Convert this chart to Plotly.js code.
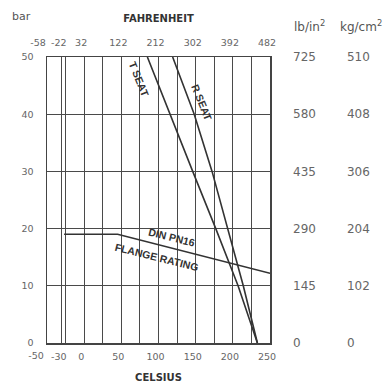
<!DOCTYPE html>
<html>
<head>
<meta charset="utf-8">
<script src="https://cdn.plot.ly/plotly-3.0.1.min.js"></script>
<style>html,body{margin:0;padding:0;background:#fff;}#chart{width:392px;height:385px;}</style>
</head>
<body>
<div id="chart"></div>
<script>
// ---- data ----
const pn16Celsius = [-27, 45, 250];
const pn16Bar = [19, 19, 12.2];
const tSeatCelsius = [85, 115, 146, 177, 207, 233];
const tSeatBar = [50, 40, 30, 20, 10, 0];
const rSeatCelsius = [119, 148, 172, 193, 214, 233];
const rSeatBar = [50, 40, 30, 20, 10, 0];

// grid positions (every 25 °C plus -30 °C)
const celsiusGridVals = [-50, -30, -25, 0, 25, 50, 75, 100, 125, 150, 175, 200, 225, 250];
// labelled Celsius ticks
const celsiusFirstVal = [-50];
const celsiusFirstText = ['-50'];
const celsiusVals = [-30, 0, 50, 100, 150, 200, 250];
const celsiusText = ['-30', '0', '50', '100', '150', '200', '250'];
// Fahrenheit ticks (placed at their Celsius equivalents)
const fahrenheitFirstVal = [-50];
const fahrenheitFirstText = ['-58'];
const fahrenheitVals = [-30, 0, 50, 100, 150, 200, 250];
const fahrenheitText = ['-22', '32', '122', '212', '302', '392', '482'];
const barTicks = [0, 10, 20, 30, 40, 50];
const lbText = ['0', '145', '290', '435', '580', '725'];
const kgText = ['0', '102', '204', '306', '408', '510'];

const lineLabels = [
  {text: 'T SEAT', x: 74, y: 46.2, angle: 68},
  {text: 'R SEAT', x: 158, y: 42.1, angle: 68},
  {text: 'DIN PN16', x: 117, y: 18.5, angle: 14},
  {text: 'FLANGE RATING', x: 98, y: 15.0, angle: 14}
];

const lineStyle = {color: '#333', width: 1.6};
const traces = [
  {x: pn16Celsius, y: pn16Bar, mode: 'lines', line: lineStyle, xaxis: 'x', yaxis: 'y', hoverinfo: 'skip'},
  {x: tSeatCelsius, y: tSeatBar, mode: 'lines', line: lineStyle, xaxis: 'x', yaxis: 'y', hoverinfo: 'skip'},
  {x: rSeatCelsius, y: rSeatBar, mode: 'lines', line: lineStyle, xaxis: 'x', yaxis: 'y', hoverinfo: 'skip'}
];

const dom = [0, 0.656];
const xr = [-50, 250];
const tickFont = {family: 'DejaVu Sans', size: 9.5, color: '#666'};
const titleFont = {family: 'DejaVu Sans', size: 10, color: '#333', weight: 'bold'};
const gridCol = '#4a4a4a';
const hidden = 'rgba(0,0,0,0)';

const annotations = lineLabels.map(l => ({
  text: l.text, x: l.x, y: l.y, xref: 'x', yref: 'y', showarrow: false,
  xanchor: 'center', yanchor: 'middle',
  textangle: l.angle, font: {family: 'Liberation Sans', size: 10.5, color: '#333', weight: 'bold'}
}));
annotations.push(
  {text: 'bar', xref: 'paper', yref: 'paper', x: -0.076, y: 1.143, xanchor: 'center', yanchor: 'middle', showarrow: false, font: {family: 'DejaVu Sans', size: 11, color: '#555'}},
  {text: 'lb/in<sup>2</sup>', xref: 'paper', yref: 'paper', x: 0.771, y: 1.108, xanchor: 'center', yanchor: 'middle', showarrow: false, font: {family: 'DejaVu Sans', size: 12, color: '#555'}},
  {text: 'kg/cm<sup>2</sup>', xref: 'paper', yref: 'paper', x: 0.9235, y: 1.108, xanchor: 'center', yanchor: 'middle', showarrow: false, font: {family: 'DejaVu Sans', size: 12, color: '#555'}}
);

const layout = {
  width: 392, height: 385,
  margin: {l: 47, r: 5, t: 57, b: 42},
  paper_bgcolor: '#fff', plot_bgcolor: '#fff',
  showlegend: false,
  // main bottom axis: grid + Celsius labels
  xaxis: {
    domain: dom, range: xr, tickvals: celsiusVals, ticktext: celsiusText, tickangle: 0,
    showgrid: false, zeroline: false,
    showline: true, mirror: true, linecolor: '#444', linewidth: 1.5,
    ticks: 'outside', ticklen: 4, tickcolor: hidden, tickfont: tickFont, ticklabelshift: -3,
    title: {text: 'CELSIUS', font: titleFont, standoff: 13}, automargin: false, fixedrange: true
  },
  // top axis: Fahrenheit labels
  xaxis2: {
    domain: dom, overlaying: 'x', side: 'top', anchor: 'y', range: xr, tickangle: 0,
    tickvals: fahrenheitVals, ticktext: fahrenheitText, showgrid: false, zeroline: false,
    ticks: 'outside', ticklen: 6, tickcolor: hidden, tickfont: tickFont, ticklabelshift: -3,
    title: {text: 'FAHRENHEIT', font: titleFont, standoff: 12}, automargin: false, fixedrange: true
  },
  // bottom: first Celsius label, shifted left as in the original
  xaxis3: {
    domain: dom, overlaying: 'x', side: 'bottom', anchor: 'y', range: xr, tickangle: 0,
    tickvals: celsiusFirstVal, ticktext: celsiusFirstText, showgrid: false, zeroline: false,
    ticks: 'outside', ticklen: 4, tickcolor: hidden, tickfont: tickFont, ticklabelshift: -11,
    automargin: false, fixedrange: true
  },
  // top: first Fahrenheit label, shifted left
  xaxis4: {
    domain: dom, overlaying: 'x', side: 'top', anchor: 'y', range: xr, tickangle: 0,
    tickvals: fahrenheitFirstVal, ticktext: fahrenheitFirstText, showgrid: false, zeroline: false,
    ticks: 'outside', ticklen: 6, tickcolor: hidden, tickfont: tickFont, ticklabelshift: -9,
    automargin: false, fixedrange: true
  },
  // grid axis (no labels)
  xaxis5: {
    domain: dom, overlaying: 'x', side: 'bottom', anchor: 'y', range: xr,
    tickvals: celsiusGridVals, showticklabels: false, showgrid: true, gridcolor: gridCol, gridwidth: 1,
    zeroline: false, ticks: '', automargin: false, fixedrange: true, layer: 'below traces'
  },
  yaxis: {
    range: [0, 50], tickvals: barTicks, showgrid: true, gridcolor: gridCol, gridwidth: 1, zeroline: false,
    showline: true, mirror: true, linecolor: '#444', linewidth: 1.5,
    ticks: 'outside', ticklen: 10, tickcolor: hidden, tickfont: tickFont, automargin: false, fixedrange: true
  },
  yaxis2: {
    overlaying: 'y', side: 'right', anchor: 'free', position: 0.7206, range: [0, 50],
    tickvals: barTicks, ticktext: lbText, showgrid: false, zeroline: false, showline: false, ticks: '',
    tickfont: {family: 'DejaVu Sans', size: 12, color: '#666'}, automargin: false, fixedrange: true
  },
  yaxis3: {
    overlaying: 'y', side: 'right', anchor: 'free', position: 0.8794, range: [0, 50],
    tickvals: barTicks, ticktext: kgText, showgrid: false, zeroline: false, showline: false, ticks: '',
    tickfont: {family: 'DejaVu Sans', size: 12, color: '#666'}, automargin: false, fixedrange: true
  },
  annotations: annotations
};

// invisible traces so the extra axes are drawn
['x2', 'x3', 'x4', 'x5'].forEach(xa => traces.push({x: [0], y: [0], xaxis: xa, yaxis: 'y', mode: 'markers', marker: {opacity: 0}, hoverinfo: 'skip'}));
['y2', 'y3'].forEach(ya => traces.push({x: [0], y: [0], xaxis: 'x', yaxis: ya, mode: 'markers', marker: {opacity: 0}, hoverinfo: 'skip'}));

Plotly.newPlot('chart', traces, layout, {staticPlot: true, displayModeBar: false});
</script>
</body>
</html>
